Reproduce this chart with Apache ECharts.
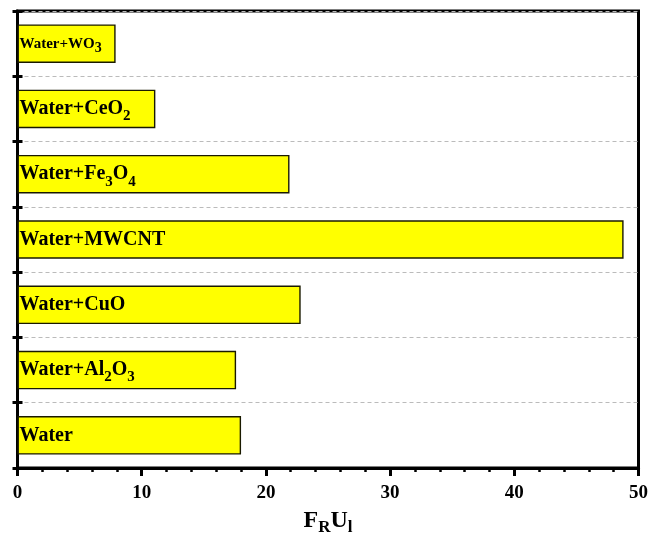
<!DOCTYPE html>
<html>
<head>
<meta charset="utf-8">
<script src="https://cdn.jsdelivr.net/npm/echarts@6/dist/echarts.min.js"></script>
<style>
  html, body { margin: 0; padding: 0; background: #fff; }
  #chart { width: 649px; height: 538px; }
</style>
</head>
<body>
<div id="chart"></div>
<script>
// Fluids, listed from bottom to top (digits are rendered as subscripts)
const categories = ['Water', 'Water+Al2O3', 'Water+CuO', 'Water+MWCNT', 'Water+Fe3O4', 'Water+CeO2', 'Water+WO3'];
// F_R U_l for each fluid
const values = [18.0, 17.6, 22.8, 48.8, 21.9, 11.1, 7.9];
const xTicks = [0, 10, 20, 30, 40, 50];

const FONT = '"Liberation Serif", "Times New Roman", serif';

// Turn chemical formula digits into subscript rich-text fragments
function formula(name, big) {
  const m = big ? 'm' : 'ms';
  const s = big ? 's' : 'ss';
  return name.replace(/(\D+)|(\d+)/g, (all, txt, num) =>
    txt ? '{' + m + '|' + txt + '}' : '{' + s + '|' + num + '}');
}

const richStyles = {
  m:  { fontFamily: FONT, fontWeight: 'bold', fontSize: 20, color: '#000' },
  s:  { fontFamily: FONT, fontWeight: 'bold', fontSize: 15, color: '#000', padding: [15, 0, 0, 0] },
  ms: { fontFamily: FONT, fontWeight: 'bold', fontSize: 15, color: '#000' },
  ss: { fontFamily: FONT, fontWeight: 'bold', fontSize: 14, color: '#000', padding: [9, 0, 0, 0] }
};

const chart = echarts.init(document.getElementById('chart'));

chart.setOption({
  animation: false,
  grid: {
    left: 17.5, right: 10.5, top: 11, bottom: 70,
    outerBoundsMode: 'none',
    show: true, borderColor: '#000', borderWidth: 3
  },
  xAxis: {
    type: 'value',
    min: xTicks[0],
    max: xTicks[xTicks.length - 1],
    interval: 10,
    name: '{b|F}{s|R}{b|U}{s|l}',
    nameLocation: 'middle',
    nameGap: 37,
    nameTextStyle: {
      rich: {
        b: { fontFamily: FONT, fontWeight: 'bold', fontSize: 24, color: '#000' },
        s: { fontFamily: FONT, fontWeight: 'bold', fontSize: 17, color: '#000', padding: [14, 0, 0, 0] }
      }
    },
    axisLine: { show: true, lineStyle: { color: '#000', width: 3 } },
    axisTick: { show: true, length: 8, lineStyle: { color: '#000', width: 3 } },
    minorTick: { show: true, splitNumber: 5, length: 4, lineStyle: { color: '#000', width: 2.5 } },
    axisLabel: {
      margin: 16,
      fontFamily: FONT, fontWeight: 'bold', fontSize: 19, color: '#000',
      formatter: v => (xTicks.indexOf(v) >= 0 ? String(v) : '')
    },
    splitLine: { show: false }
  },
  yAxis: [
    {
      type: 'category',
      data: categories,
      axisLine: { show: true, lineStyle: { color: '#000', width: 3 } },
      axisTick: { show: true, length: 5, lineStyle: { color: '#000', width: 3 } },
      axisLabel: { show: false },
      splitLine: { show: true, lineStyle: { color: '#bbb', type: [4, 3], width: 1 } }
    },
    {
      // inward half of the boundary ticks
      type: 'category',
      data: categories,
      position: 'left',
      axisLine: { show: false },
      axisTick: { show: true, inside: true, length: 5, lineStyle: { color: '#000', width: 3 } },
      axisLabel: { show: false },
      splitLine: { show: false }
    }
  ],
  series: [{
    type: 'bar',
    yAxisIndex: 0,
    barWidth: '59%',
    data: values,
    itemStyle: { color: '#ffff00', borderColor: '#1a1a00', borderWidth: 1.4 },
    label: {
      show: true,
      position: 'insideLeft',
      distance: 2,
      formatter: p => formula(p.name, p.value > 10),
      rich: richStyles
    }
  }]
});
</script>
</body>
</html>
